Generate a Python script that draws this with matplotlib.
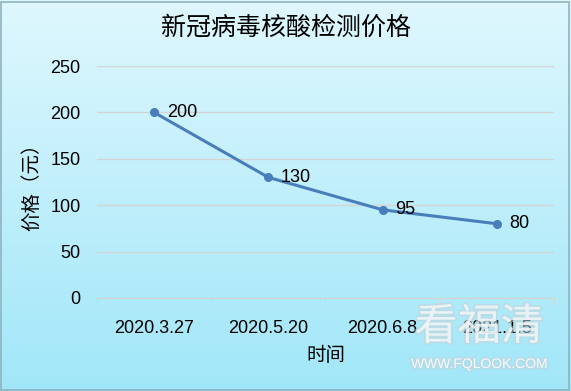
import matplotlib
matplotlib.use("Agg")
import matplotlib.pyplot as plt
import matplotlib.patheffects as pe
import numpy as np

plt.rcParams['font.family'] = ['Liberation Sans', 'Noto Sans CJK SC', 'DejaVu Sans']

# data
dates = ['2020.3.27', '2020.5.20', '2020.6.8', '2021.1.5']
prices = [200, 130, 95, 80]
title = '新冠病毒核酸检测价格'
xlabel = '时间'
ylabel = '价格（元）'

fig = plt.figure(figsize=(5.71, 3.91), dpi=100)

# gradient background
bg = fig.add_axes([0, 0, 1, 1], zorder=-10)
top = np.array([0.875, 0.97, 0.995])
bot = np.array([0.63, 0.905, 0.975])
t = np.linspace(0, 1, 256)[:, None]
grad = top[None, None, :] * (1 - t[:, :, None]) + bot[None, None, :] * t[:, :, None]
bg.imshow(np.repeat(grad, 2, axis=1), aspect='auto', extent=[0, 1, 0, 1])
bg.set_xlim(0, 1)
bg.set_ylim(0, 1)
bg.axis('off')
bg.add_patch(plt.Rectangle((0.002, 0.003), 0.995, 0.993, fill=False,
                           edgecolor='#8fb3c0', lw=1.2))

ax = fig.add_axes([0.170, 0.238, 0.800, 0.593])
ax.patch.set_alpha(0)
x = np.arange(len(dates))
ax.plot(x, prices, color='#4a7ebb', lw=2.2, marker='o', markersize=5.5, zorder=3)
for xi, v in zip(x, prices):
    ax.annotate(str(v), (xi, v), xytext=(9, 0), textcoords='offset points',
                va='center', ha='left', fontsize=13)

ax.set_xlim(-0.5, len(dates) - 0.5)
ax.set_ylim(0, 250)
ax.set_yticks(range(0, 251, 50))
ax.grid(axis='y', color='#d4d4d4', lw=1)
ax.set_axisbelow(True)
for s in ['top', 'right', 'left']:
    ax.spines[s].set_visible(False)
ax.spines['bottom'].set_color('#d4d4d4')
ax.tick_params(axis='y', length=0, labelsize=13, pad=12)
ax.set_xticks(x)
ax.set_xticklabels(dates)
ax.tick_params(axis='x', length=0, labelsize=13, pad=16)
ax.set_xticks(np.arange(-0.5, len(dates)), minor=True)
ax.tick_params(axis='x', which='minor', length=5, color='#d4d4d4')

ax.set_xlabel(xlabel, fontsize=14, labelpad=6, family=['Noto Sans CJK SC'])
ax.set_ylabel(ylabel, fontsize=14, labelpad=6, family=['Noto Sans CJK SC'])
fig.text(0.5, 0.93, title, ha='center', va='center', fontsize=18,
         family=['Noto Sans CJK SC'])

# watermark (semi-transparent, as in the source image)
fx = [pe.withStroke(linewidth=2.5, foreground='#c4d2d8', alpha=0.55)]
fig.text(0.839, 0.162, '看福清', ha='center', va='center', fontsize=31,
         color='white', alpha=0.6, family=['Noto Sans CJK SC'], path_effects=fx)
fig.text(0.839, 0.069, 'WWW.FQLOOK.COM', ha='center', va='center', fontsize=10,
         color='white', alpha=0.8, path_effects=fx)

fig.savefig('out.png', dpi=100)
